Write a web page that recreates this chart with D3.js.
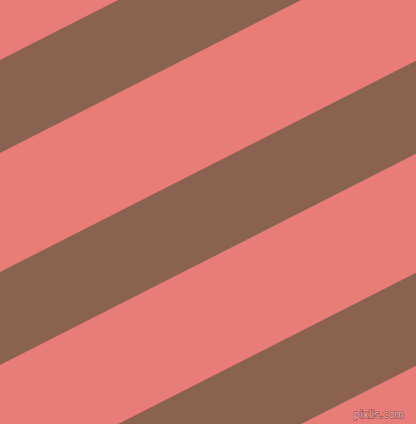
<!DOCTYPE html>
<html>
<head>
<meta charset="utf-8">
<script src="https://cdn.jsdelivr.net/npm/d3@7"></script>
<style>
html,body{margin:0;padding:0;background:#fff;}
svg{display:block;}
</style>
</head>
<body>
<script>
// Stripe data: left-edge intercepts (y at x=0) of each brown band's upper edge
const bandStarts = [60, 272, 484];
const bandThickness = [93, 93, 93];
const bandSlope = [-0.508, -0.508, -0.508];
const colors = ["#E87C78", "#89634F"];
const watermark = ["pixlis.com"];

const W = 416, H = 424;
const x = d3.scaleLinear().domain([0, 416]).range([0, W]);
const y = d3.scaleLinear().domain([0, 424]).range([0, H]);

const svg = d3.select("body").append("svg").attr("width", W).attr("height", H);
svg.append("rect").attr("width", W).attr("height", H).attr("fill", colors[0]);

const line = d3.line().x(d => x(d[0])).y(d => y(d[1]));
const bands = bandStarts.map((b, i) => {
  const s = bandSlope[i], t = bandThickness[i];
  return [[0, b], [416, b + s * 416], [416, b + t + s * 416], [0, b + t]];
});
svg.selectAll("path.band").data(bands).enter().append("path")
  .attr("class", "band")
  .attr("d", d => line(d) + "Z")
  .attr("fill", colors[1]);

svg.selectAll("text.wm").data(watermark).enter().append("text")
  .attr("class", "wm")
  .attr("x", x(404)).attr("y", y(418))
  .attr("text-anchor", "end")
  .attr("font-family", "DejaVu Sans, sans-serif")
  .attr("font-size", 10)
  .attr("fill", "#F0A8A2")
  .attr("stroke", "#9E5A55")
  .attr("stroke-width", 1.4)
  .attr("paint-order", "stroke")
  .text(d => d);
</script>
</body>
</html>
